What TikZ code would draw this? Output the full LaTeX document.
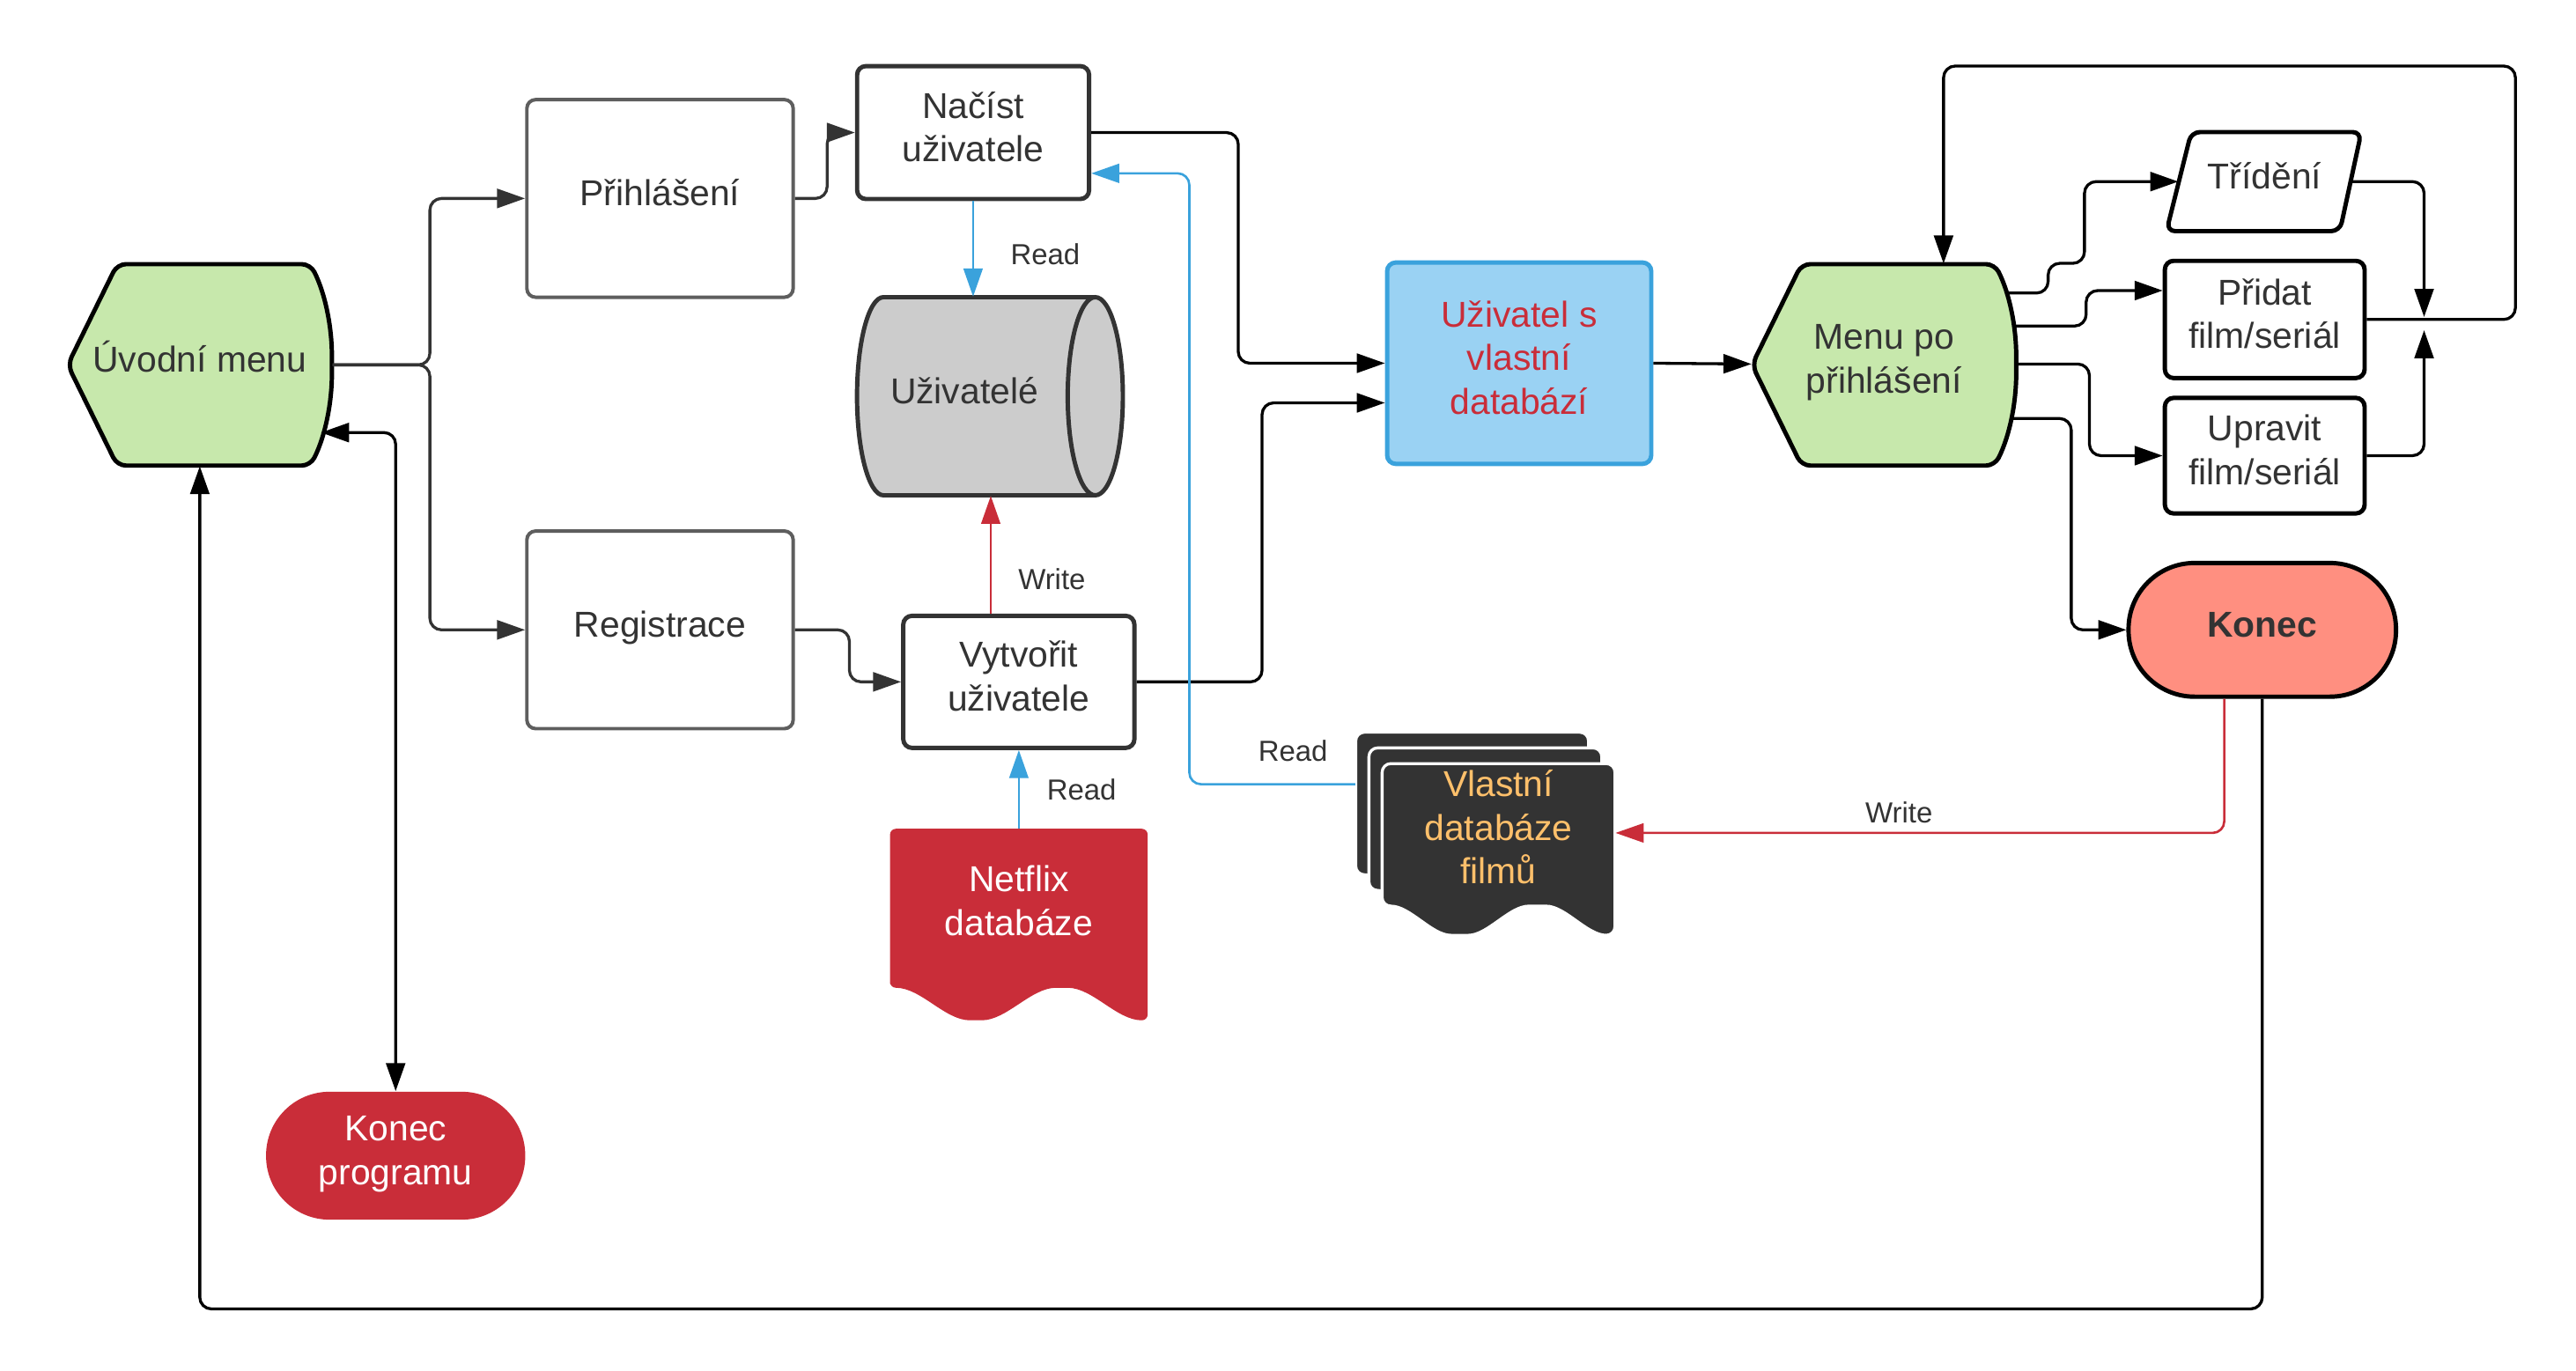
\documentclass[tikz,border=0pt]{standalone}
\usepackage{fontspec}
\setmainfont{Liberation Sans}
\usetikzlibrary{arrows.meta,calc,positioning}

\definecolor{txtgray}{HTML}{333333}
\definecolor{boxgray}{HTML}{5E5E5E}
\definecolor{menugreen}{HTML}{C7E8AC}
\definecolor{dbblue}{HTML}{9AD2F3}
\definecolor{lineblue}{HTML}{3AA2DC}
\definecolor{netred}{HTML}{C92D39}
\definecolor{konecred}{HTML}{FF8F80}
\definecolor{cylgray}{HTML}{CCCCCC}
\definecolor{docorange}{HTML}{FFC06B}

% struts for the first and the last line of a node text
\newcommand{\topstrut}{\rule{0pt}{0.95em}}
\newcommand{\botstrut}{\rule[-0.55em]{0pt}{0.55em}}

\tikzstyle{txt}=[inner sep=0pt, align=center, text=txtgray, font=\fontsize{12.4}{15}\selectfont]
\tikzstyle{Box}=[txt, rectangle, draw=txtgray, line width=1.5pt, rounded corners=3pt, fill=white]
\tikzstyle{GrayBox}=[Box, draw=boxgray, line width=1.2pt]
\tikzstyle{Pfeil}=[line width=1pt, rounded corners=4pt, ->]
\tikzstyle{Blau}=[line width=0.8pt, lineblue, ->]
\tikzstyle{Rot}=[line width=0.8pt, netred, rounded corners=4pt, ->]
\tikzstyle{Lbl}=[text=txtgray, inner sep=0pt, font=\fontsize{10}{12}\selectfont]

% menu shape: left x, top y
\newcommand{\menuform}[2]{%
	\filldraw[fill=menugreen, draw=black, line width=1.5pt, rounded corners=3pt]
	(#1,{#2+61}) -- ({#1+30},#2) -- ({#1+147},#2)
	.. controls ({#1+156},{#2+18}) and ({#1+160},{#2+38}) .. ({#1+160},{#2+61})
	.. controls ({#1+160},{#2+84}) and ({#1+156},{#2+104}) .. ({#1+147},{#2+122})
	-- ({#1+30},{#2+122}) -- cycle;}

% document shape: style, left x, top y, width, height
\newcommand{\docform}[5]{%
	\filldraw[#1] (#2,{#3+0.83*#5}) -- (#2,#3) -- ({#2+#4},#3) -- ({#2+#4},{#3+#5})
	.. controls ({#2+0.88*#4},{#3+#5}) and ({#2+0.787*#4},{#3+0.83*#5}) .. ({#2+0.667*#4},{#3+0.83*#5})
	.. controls ({#2+0.547*#4},{#3+0.83*#5}) and ({#2+0.453*#4},{#3+#5}) .. ({#2+0.333*#4},{#3+#5})
	.. controls ({#2+0.213*#4},{#3+#5}) and ({#2+0.12*#4},{#3+0.83*#5}) .. (#2,{#3+0.83*#5}) -- cycle;}

\begin{document}
\begin{tikzpicture}[x=0.02cm, y=-0.02cm, >={Triangle[length=0.34cm,width=0.23cm]}]

		\useasboundingbox (0,0) rectangle (1560,830);

		% Formen
		\menuform{41}{160}
		\menuform{1061}{160}

		\fill[cylgray] (535,180) -- (663,180) -- (663,300) -- (535,300)
		.. controls (526.2,300) and (519,273.1) .. (519,240)
		.. controls (519,206.9) and (526.2,180) .. (535,180) -- cycle;
		\draw[txtgray, line width=1.5pt] (663,180) -- (535,180)
		.. controls (526.2,180) and (519,206.9) .. (519,240)
		.. controls (519,273.1) and (526.2,300) .. (535,300) -- (663,300);
		\filldraw[fill=cylgray, draw=txtgray, line width=1.5pt] (663.3,240) ellipse [x radius=16.7, y radius=60];

		\docform{fill=netred, draw=none, rounded corners=2pt}{539}{502}{156}{116}
		\docform{fill=txtgray, draw=white, line width=1pt, rounded corners=3pt}{821}{443.5}{141}{104}
		\docform{fill=txtgray, draw=white, line width=1pt, rounded corners=3pt}{829}{453}{141}{104}
		\docform{fill=txtgray, draw=white, line width=1pt, rounded corners=3pt}{837}{462.5}{141}{104}

		\filldraw[fill=white, draw=black, line width=1.5pt, rounded corners=3pt]
		(1327,80) -- (1430,80) -- (1417,140) -- (1312,140) -- cycle;

		% Knoten
		\node [txt, minimum width=3.2cm, minimum height=2.44cm] (uvod) at (121,221) {\topstrut Úvodní menu\botstrut};
		\node [GrayBox, minimum width=3.226cm, minimum height=2.394cm] (prihl) at (399.7,120.2) {\topstrut Přihlášení\botstrut};
		\node [GrayBox, minimum width=3.226cm, minimum height=2.394cm] (reg) at (399.7,381.5) {\topstrut Registrace\botstrut};
		\node [Box, minimum width=2.81cm, minimum height=1.61cm] (nacist) at (589.3,80.3) {\topstrut Načíst\\uživatele\botstrut};
		\node [txt, minimum width=2.6cm, minimum height=2.4cm] (uziv) at (584,240) {\topstrut Uživatelé\botstrut};
		\node [Box, minimum width=2.8cm, minimum height=1.6cm] (vytv) at (617,413) {\topstrut Vytvořit\\uživatele\botstrut};
		\node [txt, text=white, minimum width=3.12cm, minimum height=1.88cm] (netflix) at (617,549) {\topstrut Netflix\\databáze\botstrut};
		\node [txt, text=docorange, minimum width=2.82cm, minimum height=1.6cm] (vlastni) at (907.5,504.5) {\topstrut Vlastní\\databáze\\filmů\botstrut};
		\node [Box, fill=dbblue, draw=lineblue, text=netred, minimum width=3.2cm, minimum height=2.44cm] (uzvl) at (920,220) {\topstrut Uživatel s\\vlastní\\databází\botstrut};
		\node [txt, minimum width=3.2cm, minimum height=2.42cm] (menupo) at (1141,220.5) {\topstrut Menu po\\přihlášení\botstrut};
		\node [txt, minimum width=2.08cm, minimum height=1.2cm] (trideni) at (1371.5,110) {\topstrut Třídění\botstrut};
		\node [Box, draw=black, minimum width=2.42cm, minimum height=1.42cm] (pridat) at (1371.5,193.5) {\topstrut Přidat\\film/seriál\botstrut};
		\node [Box, draw=black, minimum width=2.42cm, minimum height=1.4cm] (upravit) at (1371.5,276) {\topstrut Upravit\\film/seriál\botstrut};
		\node [Box, draw=black, fill=konecred, rounded corners=0.8cm, minimum width=3.24cm, minimum height=1.62cm,
			font=\fontsize{12.4}{15}\selectfont\bfseries] (konec) at (1370,381.5) {\topstrut Konec\botstrut};
		\node [txt, text=white, fill=netred, rounded corners=0.77cm, minimum width=3.14cm, minimum height=1.55cm] (konecprog) at (239.6,700) {\topstrut Konec\\programu\botstrut};

		\coordinate (joinA) at (1468,192);
		\coordinate (joinB) at (1468,200);

		% Verbindungen links
		\draw[Pfeil, txtgray] (uvod.east) -- ++(59,0) |- (prihl.west);
		\draw[Pfeil, txtgray] (uvod.east) -- ++(59,0) |- (reg.west);
		\draw[Pfeil, txtgray] (prihl.east) -- ++(19.5,0) |- (nacist.west);
		\draw[Pfeil, txtgray] (reg.east) -- ++(33,0) |- (vytv.west);
		\draw[Pfeil, <->] ($(uvod.east)+(-7,41)$) -| (konecprog.north);

		% Verbindungen rechts
		\draw[Pfeil] (nacist.east) -- ++(89,0) |- (uzvl.west);
		\draw[Pfeil] (vytv.east) -- ++(76,0) |- ($(uzvl.west)+(0,24)$);
		\draw[Pfeil] (uzvl.east) -- (menupo.west);
		\draw[Pfeil] ($(menupo.east)+(-7,-43)$) -- ++(26,0) -- ++(0,-18) -- ++(22,0) |- (trideni.west);
		\draw[Pfeil] ($(menupo.east)+(-2,-23)$) -- ++(44,0) |- ($(pridat.west)+(0,-17.5)$);
		\draw[Pfeil] (menupo.east) -- ++(44,0) |- (upravit.west);
		\draw[Pfeil] ($(menupo.east)+(-4,33)$) -- ++(37,0) |- (konec.west);
		\draw[Pfeil] (trideni.east) -| (joinA);
		\draw[Pfeil] (upravit.east) -| (joinB);
		\draw[Pfeil] (pridat.east) -- ++(90,0) -- ++(0,-153.5) -| ($(menupo.north)+(36,0)$);
		\draw[Pfeil] (konec.south) -- ++(0,369.5) -| (uvod.south);

		% Lesen / Schreiben
		\draw[Blau] (nacist.south) -- (nacist.south |- uziv.north);
		\draw[Rot] ($(vytv.north)+(-17,0)$) -- ($(uziv.south)+(16,0)$);
		\draw[Blau] (netflix.north) -- (vytv.south);
		\draw[Blau, rounded corners=4pt] ($(vlastni.west)+(-16,-29.5)$) -| ($(nacist.east)+(59.4,24.7)$) -- ($(nacist.east)+(0,24.7)$);
		\draw[Rot] ($(konec.south)+(-23,0)$) |- (vlastni.east);

		\node [Lbl] (read1) at (633,154) {Read};
		\node [Lbl] (write1) at (637,351) {Write};
		\node [Lbl] (read2) at (655,478) {Read};
		\node [Lbl] (read3) at (783,455) {Read};
		\node [Lbl] (write2) at (1150,492) {Write};

	\end{tikzpicture}
\end{document}
